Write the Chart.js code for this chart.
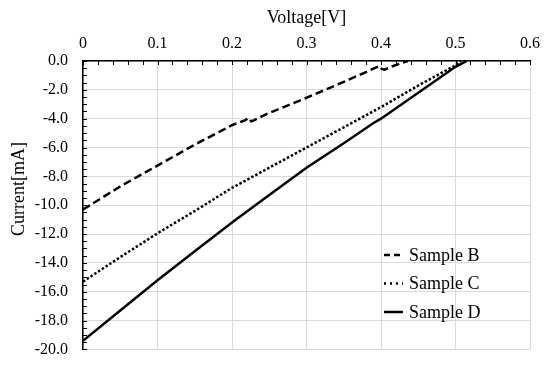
<!DOCTYPE html>
<html>
<head>
<meta charset="utf-8">
<script src="https://cdn.jsdelivr.net/npm/chart.js@4.4.0/dist/chart.umd.min.js"></script>
<style>
  html, body { margin: 0; padding: 0; background: #fff; }
  #wrap { width: 550px; height: 374px; }
</style>
</head>
<body>
<div id="wrap"><canvas id="ivChart"></canvas></div>
<script>
// Series (voltage in V, current in mA)
const seriesNames = ['Sample B', 'Sample C', 'Sample D'];

const voltB = [0, 0.05, 0.1, 0.15, 0.2, 0.218, 0.222, 0.226, 0.25, 0.3, 0.35, 0.398, 0.401, 0.405, 0.412, 0.436];
const currB = [-10.3, -8.7, -7.25, -5.8, -4.45, -4.1, -3.95, -4.2, -3.6, -2.55, -1.45, -0.35, -0.55, -0.6, -0.42, 0];

const voltC = [0, 0.05, 0.1, 0.15, 0.2, 0.25, 0.3, 0.35, 0.4, 0.45, 0.5, 0.507];
const currC = [-15.3, -13.6, -11.95, -10.4, -8.8, -7.4, -6.0, -4.6, -3.2, -1.7, -0.3, 0];

const voltD = [0, 0.05, 0.1, 0.15, 0.2, 0.25, 0.3, 0.35, 0.39, 0.4, 0.45, 0.5, 0.515];
const currD = [-19.4, -17.3, -15.2, -13.2, -11.2, -9.3, -7.4, -5.7, -4.3, -4.0, -2.2, -0.4, 0];

const xTicks = [0, 0.1, 0.2, 0.3, 0.4, 0.5, 0.6];
const yTicks = [0, -2, -4, -6, -8, -10, -12, -14, -16, -18, -20];

const yTitle = 'Current[mA]';
const serif = 'Liberation Serif, Times New Roman, serif';

function pairs(xs, ys) {
    return xs.map((v, i) => ({ x: v, y: ys[i] }));
}

// small inside tick marks on the top and left axes, plus the y title
// (the reference has it sitting above the middle of the axis)
const axisExtras = {
    id: 'axisExtras',
    afterDraw(chart) {
        const { ctx, chartArea, scales } = chart;
        ctx.save();
        ctx.strokeStyle = '#000';
        ctx.lineWidth = 1;
        ctx.beginPath();
        for (let i = 0; i <= 30; i++) {
            const px = Math.round(scales.x.getPixelForValue(i * 0.02)) + 0.5;
            ctx.moveTo(px, chartArea.top);
            ctx.lineTo(px, chartArea.top + 4);
        }
        for (let i = 0; i <= 40; i++) {
            const py = Math.round(scales.y.getPixelForValue(-i * 0.5)) + 0.5;
            ctx.moveTo(chartArea.left, py);
            ctx.lineTo(chartArea.left + 4, py);
        }
        ctx.stroke();

        ctx.translate(19, chartArea.top + 128);
        ctx.rotate(-Math.PI / 2);
        ctx.fillStyle = '#000';
        ctx.font = '18px ' + serif;
        ctx.textAlign = 'center';
        ctx.textBaseline = 'middle';
        ctx.fillText(yTitle, 0, 0);
        ctx.restore();
    }
};

// legend drawn inside the plot, lower right
const insideLegend = {
    id: 'insideLegend',
    afterDraw(chart) {
        const { ctx, chartArea } = chart;
        const x0 = chartArea.left + 301;
        let y = chartArea.top + 194;
        ctx.save();
        chart.data.datasets.forEach(ds => {
            ctx.strokeStyle = ds.borderColor;
            ctx.lineWidth = ds.borderWidth;
            ctx.setLineDash(ds.legendDash || ds.borderDash || []);
            ctx.beginPath();
            ctx.moveTo(x0, y);
            ctx.lineTo(x0 + 19, y);
            ctx.stroke();
            ctx.setLineDash([]);
            ctx.fillStyle = '#000';
            ctx.font = '18px ' + serif;
            ctx.textBaseline = 'middle';
            ctx.fillText(ds.label, x0 + 25, y + 1);
            y += 28.5;
        });
        ctx.restore();
    }
};

const ctx = document.getElementById('ivChart').getContext('2d');
const ivChart = new Chart(ctx, {
    type: 'scatter',
    data: {
        datasets: [{
            label: seriesNames[0],
            data: pairs(voltB, currB),
            borderColor: '#000',
            borderWidth: 2.5,
            borderDash: [8, 4],
            legendDash: [6, 4]
        }, {
            label: seriesNames[1],
            data: pairs(voltC, currC),
            borderColor: '#000',
            borderWidth: 2.5,
            borderDash: [2.5, 2],
            legendDash: [2, 4]
        }, {
            label: seriesNames[2],
            data: pairs(voltD, currD),
            borderColor: '#000',
            borderWidth: 2.5
        }]
    },
    options: {
        responsive: true,
        maintainAspectRatio: false,
        animation: false,
        showLine: true,
        elements: {
            point: { radius: 0, hoverRadius: 0 },
            line: { tension: 0, fill: false }
        },
        layout: { padding: { left: 0, top: 0, right: 20, bottom: 18 } },
        scales: {
            x: {
                type: 'linear',
                position: 'top',
                min: 0,
                max: 0.6,
                afterBuildTicks: scale => { scale.ticks = xTicks.map(v => ({ value: v })); },
                afterFit: scale => { scale.height = 61; },
                ticks: {
                    color: '#000',
                    padding: 8,
                    font: { family: serif, size: 16 },
                    callback: v => v === 0 ? '0' : v.toFixed(1)
                },
                grid: { color: '#d9d9d9', drawTicks: false },
                border: { color: '#000', width: 1.5 },
                title: {
                    display: true,
                    text: 'Voltage[V]',
                    color: '#000',
                    font: { family: serif, size: 18 },
                    padding: { top: 7, bottom: 0 }
                }
            },
            y: {
                type: 'linear',
                min: -20,
                max: 0,
                afterBuildTicks: scale => { scale.ticks = yTicks.map(v => ({ value: v })); },
                afterFit: scale => { scale.width = 83; },
                ticks: {
                    color: '#000',
                    padding: 15,
                    font: { family: serif, size: 16 },
                    callback: v => v.toFixed(1)
                },
                grid: { color: '#d9d9d9', drawTicks: false },
                border: { color: '#000', width: 1.5 }
            }
        },
        plugins: {
            legend: { display: false },
            tooltip: { enabled: false }
        }
    },
    plugins: [axisExtras, insideLegend]
});
</script>
</body>
</html>
